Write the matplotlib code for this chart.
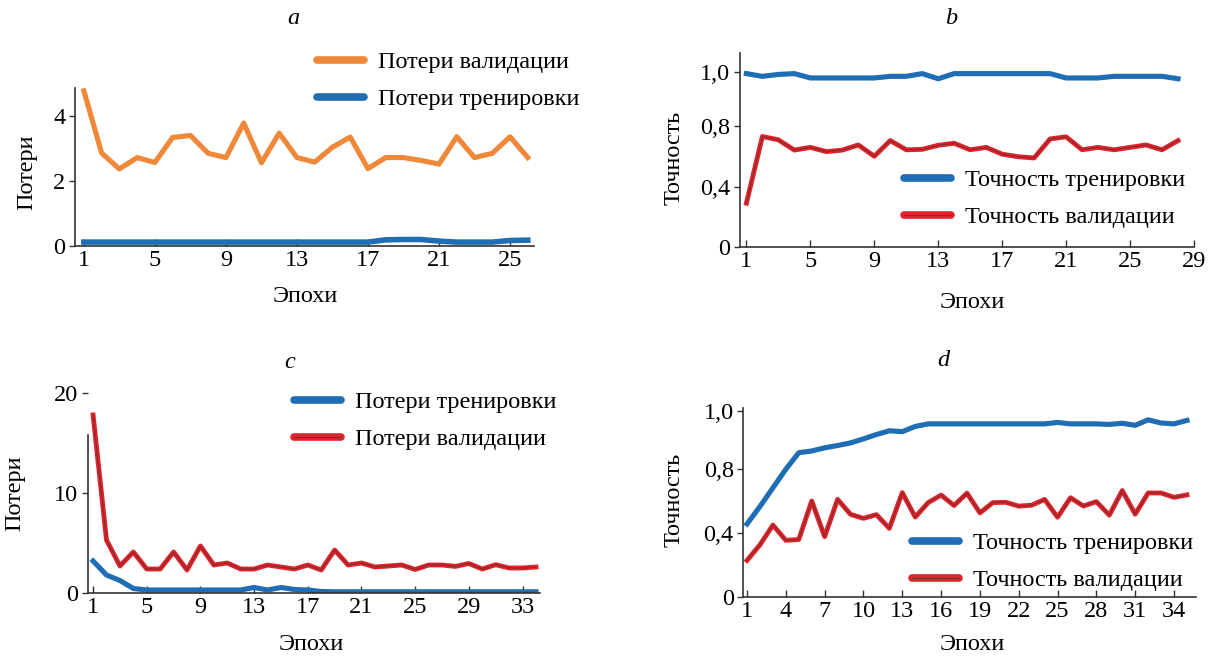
import numpy as np
import matplotlib.pyplot as plt
import matplotlib.patheffects as pe

plt.rcParams['font.family'] = ['Liberation Serif', 'DejaVu Serif']

W, H = 1208, 657

# --- data ---
val_loss_a = [4.77, 2.86, 2.37, 2.72, 2.57, 3.34, 3.40, 2.85, 2.72, 3.78,
              2.56, 3.47, 2.72, 2.58, 3.04, 3.35, 2.38, 2.72, 2.72, 2.63,
              2.52, 3.36, 2.72, 2.85, 3.36, 2.72]
train_loss_a = [0.12, 0.12, 0.12, 0.12, 0.12, 0.12, 0.12, 0.12, 0.12, 0.12,
                0.12, 0.12, 0.12, 0.12, 0.12, 0.12, 0.12, 0.19, 0.20, 0.20,
                0.15, 0.12, 0.12, 0.12, 0.17, 0.18]

train_acc_b = [0.994, 0.984, 0.991, 0.994, 0.978, 0.978, 0.978, 0.978, 0.978, 0.984,
               0.984, 0.994, 0.975, 0.994, 0.994, 0.994, 0.994, 0.994, 0.994, 0.994,
               0.978, 0.978, 0.978, 0.984, 0.984, 0.984, 0.984, 0.975]
val_acc_b = [0.29, 0.732, 0.71, 0.642, 0.66, 0.632, 0.642, 0.676, 0.601, 0.705,
             0.644, 0.647, 0.674, 0.687, 0.644, 0.66, 0.615, 0.598, 0.59, 0.716,
             0.73, 0.644, 0.66, 0.644, 0.66, 0.676, 0.644, 0.705]

train_loss_c = [3.2, 1.8, 1.25, 0.45, 0.3, 0.3, 0.3, 0.3, 0.3, 0.3,
                0.3, 0.3, 0.55, 0.3, 0.55, 0.35, 0.3, 0.15, 0.12, 0.12,
                0.12, 0.12, 0.12, 0.12, 0.12, 0.12, 0.12, 0.12, 0.12, 0.12,
                0.12, 0.12, 0.12, 0.12]
val_loss_c = [17.8, 5.3, 2.7, 4.1, 2.4, 2.4, 4.1, 2.3, 4.7, 2.8,
              3.0, 2.4, 2.4, 2.8, 2.6, 2.4, 2.8, 2.3, 4.3, 2.8,
              3.0, 2.6, 2.7, 2.8, 2.35, 2.8, 2.8, 2.66, 2.95, 2.4,
              2.83, 2.5, 2.5, 2.6]

train_acc_d = [0.455, 0.564, 0.68, 0.796, 0.855, 0.861, 0.872, 0.88, 0.889, 0.903,
               0.918, 0.931, 0.928, 0.946, 0.955, 0.955, 0.955, 0.955, 0.955, 0.955,
               0.955, 0.955, 0.955, 0.955, 0.96, 0.955, 0.955, 0.955, 0.953, 0.957,
               0.95, 0.969, 0.958, 0.955, 0.967]
val_acc_d = [0.228, 0.325, 0.448, 0.353, 0.358, 0.598, 0.376, 0.608, 0.515, 0.49,
             0.513, 0.428, 0.65, 0.498, 0.588, 0.635, 0.57, 0.647, 0.524, 0.588,
             0.59, 0.566, 0.572, 0.608, 0.497, 0.618, 0.567, 0.594, 0.51, 0.663,
             0.516, 0.648, 0.648, 0.621, 0.636]

xticks_a = [1, 5, 9, 13, 17, 21, 25]
xticks_b = [1, 5, 9, 13, 17, 21, 25, 29]
xticks_c = [1, 5, 9, 13, 17, 21, 25, 29, 33]
xticks_d = [1, 4, 7, 10, 13, 16, 19, 22, 25, 28, 31, 34]
acc_ticks = [0, 0.4, 0.8, 1.0]
acc_labels = ['0', '0,4', '0,8', '1,0']

ORANGE = '#f0883a'
BLUE = '#1f6db5'
RED = '#e0242c'

# the accuracy axes in the original are not linear: 0 / 0,4 / 0,8 / 1,0 almost evenly spaced
acc_vals = [0, 0.4, 0.8, 1.0, 1.2]
acc_pos = [0, 0.345, 0.69, 1.0, 1.31]


def fwd(v):
    return np.interp(v, acc_vals, acc_pos)


def inv(p):
    return np.interp(p, acc_pos, acc_vals)


def px_axes(l, r, b, t):
    return [l / W, 1 - b / H, (r - l) / W, (b - t) / H]


def ftext(x, y, s, size=17.5, **kw):
    fig.text(x / W, 1 - y / H, s, ha='center', va='center', fontsize=size, **kw)


def style(ax):
    for s in ['top', 'right']:
        ax.spines[s].set_visible(False)
    for s in ['left', 'bottom']:
        ax.spines[s].set_linewidth(1.2)
        ax.spines[s].set_color('#333333')
    ax.tick_params(axis='x', direction='in', length=5, width=1, labelsize=17.5, pad=3, color='#333333')
    ax.tick_params(axis='y', direction='out', length=4, width=1, labelsize=17.5, pad=3, color='#333333')


def red_line(ax, x, y, label):
    ax.plot(x, y, color=RED, lw=3.5, label=label, solid_joinstyle='round',
            path_effects=[pe.Normal(), pe.Stroke(linewidth=0.9, foreground='#8c2a2a')])


def legend(ax, x, y):
    leg = ax.legend(loc='upper left', bbox_to_anchor=(x / W, 1 - y / H),
                    bbox_transform=fig.transFigure, frameon=False, fontsize=17.5,
                    borderpad=0, borderaxespad=0, handlelength=1.95,
                    handletextpad=0.55, labelspacing=0.62)
    for ln in leg.get_lines():
        ln.set_linewidth(5.5)
        ln.set_solid_capstyle('round')
    return leg


fig = plt.figure(figsize=(W / 100, H / 100), dpi=100)

# a
ax = fig.add_axes(px_axes(75, 534, 246, 88))
ea = np.arange(1, len(val_loss_a) + 1)
ax.plot(ea, val_loss_a, color=ORANGE, lw=3.7, label='Потери валидации')
ax.plot(ea, train_loss_a, color=BLUE, lw=4, label='Потери тренировки')
ax.set_xlim(0.5, 26.35)
ax.set_ylim(0, 4.86)
ax.set_xticks(xticks_a)
ax.set_yticks([0, 2, 4])
style(ax)
legend(ax, 317, 51)
ftext(293, 18, 'a', style='italic')
ftext(305, 296, 'Эпохи')
ftext(27, 172, 'Потери', rotation=90)

# b
ax = fig.add_axes(px_axes(740, 1194, 247, 53))
eb = np.arange(1, len(val_acc_b) + 1)
ax.plot(eb, train_acc_b, color=BLUE, lw=3.7, label='Точность тренировки')
red_line(ax, eb, val_acc_b, 'Точность валидации')
ax.set_yscale('function', functions=(fwd, inv))
ax.set_xlim(0.6, 29.0)
ax.set_ylim(0, 1.07)
ax.set_xticks(xticks_b)
ax.set_yticks(acc_ticks, acc_labels)
ax.minorticks_off()
style(ax)
legend(ax, 904, 169)
ftext(951, 18, 'b', style='italic')
ftext(972, 302, 'Эпохи')
ftext(674, 158, 'Точность', rotation=90)

# c
ax = fig.add_axes(px_axes(87.7, 540, 593, 390))
ec = np.arange(1, len(val_loss_c) + 1)
ax.plot(ec, train_loss_c, color=BLUE, lw=3.7, label='Потери тренировки')
red_line(ax, ec, val_loss_c, 'Потери валидации')
ax.set_xlim(0.6, 34.3)
ax.set_ylim(0, 20.3)
ax.set_xticks(xticks_c)
ax.set_yticks([0, 10, 20])
style(ax)
ax.spines['left'].set_bounds(0, 15.8)
legend(ax, 294, 391)
ftext(290, 362, 'c', style='italic')
ftext(311, 645, 'Эпохи')
ftext(15, 493, 'Потери', rotation=90)

# d
ax = fig.add_axes(px_axes(743.4, 1196, 597, 408))
ed = np.arange(1, len(val_acc_d) + 1)
ax.plot(ed, train_acc_d, color=BLUE, lw=3.7, label='Точность тренировки')
red_line(ax, ed, val_acc_d, 'Точность валидации')
ax.set_yscale('function', functions=(fwd, inv))
ax.set_xlim(0.72, 35.7)
ax.set_ylim(0, 1.01)
ax.set_xticks(xticks_d)
ax.set_yticks(acc_ticks, acc_labels)
ax.minorticks_off()
style(ax)
legend(ax, 912, 532)
ftext(943, 360, 'd', style='italic')
ftext(972, 645, 'Эпохи')
ftext(674, 500, 'Точность', rotation=90)

fig.savefig('out.png', dpi=100)
